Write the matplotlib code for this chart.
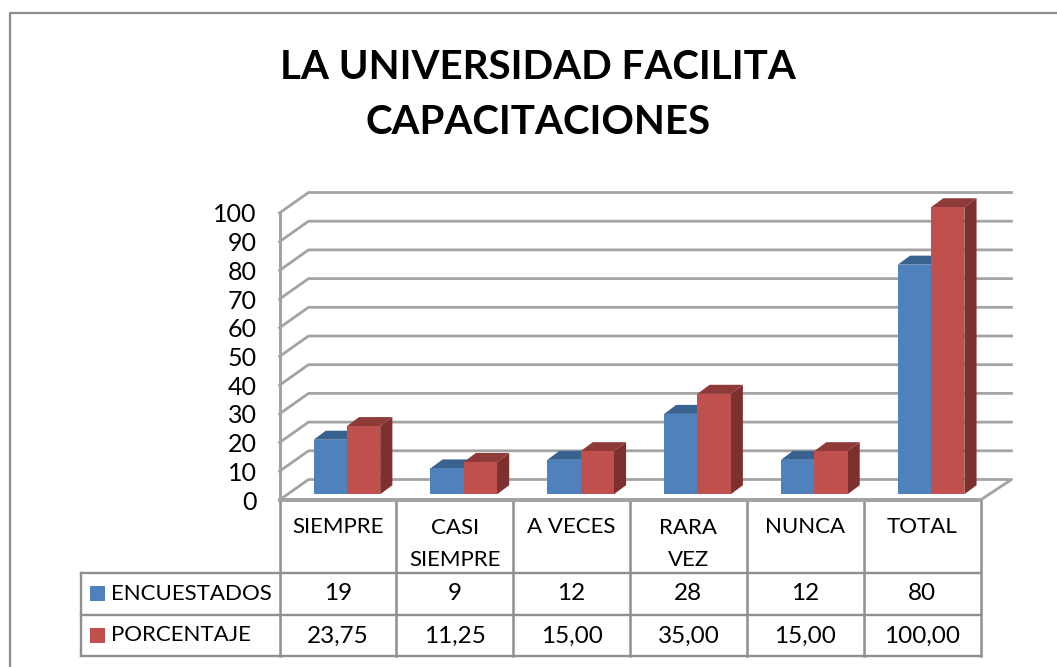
import matplotlib
matplotlib.use("Agg")
import matplotlib.pyplot as plt
from matplotlib.patches import Polygon, Rectangle

categories = ['SIEMPRE', 'CASI\nSIEMPRE', 'A VECES', 'RARA\nVEZ', 'NUNCA', 'TOTAL']
encuestados = [19, 9, 12, 28, 12, 80]
porcentaje = [23.75, 11.25, 15.00, 35.00, 15.00, 100.00]
encuestados_txt = ['19', '9', '12', '28', '12', '80']
porcentaje_txt = ['23,75', '11,25', '15,00', '35,00', '15,00', '100,00']
yticks = [0, 10, 20, 30, 40, 50, 60, 70, 80, 90, 100]
title = 'LA UNIVERSIDAD FACILITA\nCAPACITACIONES'

W, H = 1057, 667
plt.rcParams['font.family'] = ['Lato', 'DejaVu Sans']

# pixel layout
left, right, top, bottom = 279.5, 980.5, 213, 500
cat_w = (right - left) / 6
unit = (bottom - top) / 100.0
depth_x = 29 / cat_w
depth_y = 20.5 / unit
bar_w = 33.3 / cat_w
grid_col = '#a3a3a3'
line_col = '#8f8f8f'

fig = plt.figure(figsize=(W / 100, H / 100), dpi=100)

# overlay in pixel coordinates for the frame and the data table
bg = fig.add_axes([0, 0, 1, 1])
bg.set_xlim(0, W)
bg.set_ylim(H, 0)
bg.axis('off')
bg.plot([9.5, 9.5, 1057], [H, 12.5, 12.5], color='#8c8c8c', lw=1.6)
bg.text(538, 95, title, ha='center', va='center', fontsize=29, fontweight='bold',
        color='black', linespacing=1.59)

ax = fig.add_axes([left / W, 1 - bottom / H, (right - left) / W, (bottom - top) / H])
ax.set_xlim(0, 6)
ax.set_ylim(0, 100)
ax.patch.set_visible(False)
for s in ax.spines.values():
    s.set_visible(False)
ax.set_xticks([])
ax.set_yticks(yticks)
ax.tick_params(axis='y', length=0, pad=16.5, labelsize=18)
for t in ax.get_yticklabels():
    t.set_color('black')

# walls and floor
back_right = 6 + depth_x + 2 / cat_w
for v in yticks[1:]:
    ax.plot([0, depth_x, back_right], [v, v + depth_y, v + depth_y], color=grid_col,
            lw=2, clip_on=False, solid_joinstyle='round')
ax.plot([0, depth_x, back_right, 6, 0], [0, depth_y, depth_y, 0, 0], color=grid_col,
        lw=2, clip_on=False)
ax.plot([0, 0], [0, 100], color=grid_col, lw=2.2, clip_on=False)
ax.plot([0, 6], [0, 0], color=grid_col, lw=2.8, clip_on=False)


def bar3d(x0, val, front, topc, side):
    # bar stands a little into the floor, with its own depth
    ox = 0.31 * depth_x
    oy = 0.28 * depth_y
    dx = 0.42 * depth_x
    dy = 0.44 * depth_y
    x0 = x0 + ox
    x1 = x0 + bar_w
    y0 = oy
    y1 = val + oy
    ax.add_patch(Polygon([(x1, y0), (x1 + dx, y0 + dy), (x1 + dx, y1 + dy), (x1, y1)],
                         fc=side, ec='none', clip_on=False, zorder=3))
    ax.add_patch(Polygon([(x0, y1), (x0 + dx, y1 + dy), (x1 + dx, y1 + dy), (x1, y1)],
                         fc=topc, ec='none', clip_on=False, zorder=3))
    ax.add_patch(Rectangle((x0, y0), bar_w, val, fc=front, ec='none', clip_on=False, zorder=4))


for i in range(6):
    bar3d(i + 0.5 - bar_w, encuestados[i], '#4f81bd', '#3a6291', '#345a85')
    bar3d(i + 0.5, porcentaje[i], '#c0504d', '#8e3a38', '#7d302e')

# data table
row1, row2, row3 = 573, 615, 656
tab_left = 80.5
for i in range(7):
    x = left + i * cat_w
    bg.plot([x, x], [bottom, row3], color=line_col, lw=1.8)
bg.plot([tab_left, tab_left], [row1, row3], color=line_col, lw=1.7)
for y in [row1, row2, row3]:
    bg.plot([tab_left, right], [y, y], color=line_col, lw=1.7)

for i in range(6):
    xc = left + (i + 0.5) * cat_w
    bg.text(xc, 527 if '\n' not in categories[i] else 544, categories[i], ha='center', va='center',
            fontsize=16, linespacing=1.8)
    bg.text(xc, 594, encuestados_txt[i], ha='center', va='center', fontsize=17.5)
    bg.text(xc, 636, porcentaje_txt[i], ha='center', va='center', fontsize=17.5)

bg.set_zorder(0)
ax.set_zorder(1)
bg.add_patch(Rectangle((90, 586), 15, 15, fc='#4f81bd', ec='none'))
bg.add_patch(Rectangle((90, 628), 15, 15, fc='#c0504d', ec='none'))
bg.text(111, 594, 'ENCUESTADOS', ha='left', va='center', fontsize=16)
bg.text(111, 635, 'PORCENTAJE', ha='left', va='center', fontsize=16)

fig.savefig('out.png', dpi=100)
